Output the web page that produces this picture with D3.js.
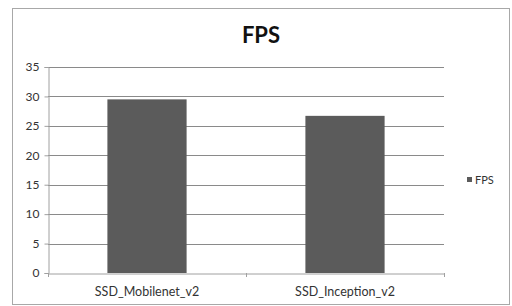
<!DOCTYPE html>
<html><head><meta charset="utf-8">
<script src="https://cdn.jsdelivr.net/npm/d3@7"></script>
<style>body{margin:0;background:#fff}svg{display:block}text{font-family:Lato,"Open Sans",sans-serif}</style>
</head><body><svg id="c" width="512" height="306"></svg>
<script>
const categories = ["SSD_Mobilenet_v2", "SSD_Inception_v2"];
const fps = [29.5, 26.7];
const yTicks = [0, 5, 10, 15, 20, 25, 30, 35];
const seriesName = "FPS";

const svg = d3.select("#c");
svg.append("rect").attr("x", 12.5).attr("y", 8.5).attr("width", 497).attr("height", 296)
  .attr("fill", "#fff").attr("stroke", "#a8a8a8");

const m = {l: 48, r: 444, t: 67, b: 273};
const x = d3.scaleBand().domain(categories).range([m.l, m.r]).paddingInner(0.6).paddingOuter(0.3);
const y = d3.scaleLinear().domain([0, 35]).range([m.b, m.t]);

// gridlines
svg.append("g").selectAll("line").data(yTicks.filter(d => d > 0)).join("line")
  .attr("x1", m.l).attr("x2", m.r).attr("y1", d => Math.round(y(d)) + 0.5).attr("y2", d => Math.round(y(d)) + 0.5)
  .attr("stroke", "#8a8a8a").attr("stroke-width", 1);

// bars
svg.append("g").selectAll("rect").data(fps).join("rect")
  .attr("x", (d, i) => x(categories[i])).attr("width", x.bandwidth())
  .attr("y", d => y(d)).attr("height", d => y(0) - y(d))
  .attr("fill", "#5b5b5b");

// y axis
const ya = svg.append("g").attr("transform", `translate(${m.l + 0.5},0)`)
  .call(d3.axisLeft(y).tickValues(yTicks).tickSize(4).tickPadding(5));
ya.select(".domain").attr("stroke", "#a0a0a0");
ya.selectAll(".tick line").attr("stroke", "#a0a0a0");
ya.selectAll(".tick text").attr("font-size", 12).attr("fill", "#333");

// x axis
const xEdge = d3.scaleOrdinal().domain([0, 1, 2]).range([m.l, (m.l + m.r) / 2, m.r]);
const xa = svg.append("g").attr("transform", `translate(0,${m.b + 0.5})`)
  .call(d3.axisBottom(x).tickSize(0).tickPadding(14));
xa.select(".domain").attr("stroke", "#a0a0a0");
xa.selectAll(".tick text").attr("font-size", 12.5).attr("fill", "#333");
svg.append("g").selectAll("line").data([0, 1, 2]).join("line")
  .attr("x1", d => xEdge(d) + 0.5).attr("x2", d => xEdge(d) + 0.5)
  .attr("y1", m.b).attr("y2", m.b + 4).attr("stroke", "#a0a0a0");

// title
svg.append("text").attr("x", 261).attr("y", 43).attr("text-anchor", "middle")
  .attr("font-size", 22).attr("font-weight", "bold").attr("fill", "#111").text("FPS");

// legend
svg.append("rect").attr("x", 467).attr("y", 177).attr("width", 5).attr("height", 5).attr("fill", "#5b5b5b");
svg.append("text").attr("x", 475).attr("y", 184).attr("font-size", 11).attr("fill", "#333").text(seriesName);
</script></body></html>
